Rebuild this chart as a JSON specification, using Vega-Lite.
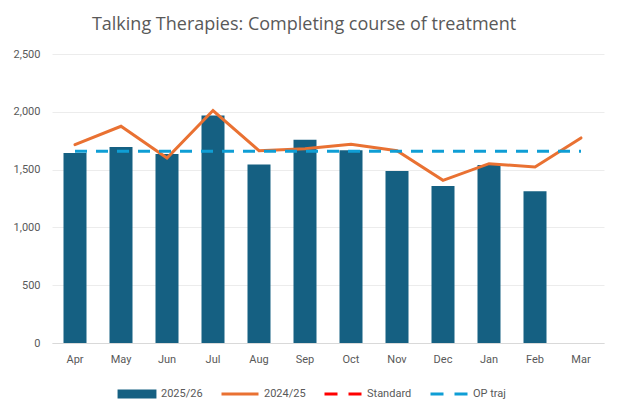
{
  "$schema": "https://vega.github.io/schema/vega-lite/v6.json",
  "width": 552,
  "height": 289,
  "autosize": {"type": "none"},
  "padding": {"left": 52, "top": 54, "right": 15, "bottom": 70},
  "background": "white",
  "title": {
    "text": "Talking Therapies: Completing course of treatment",
    "font": "Open Sans",
    "fontSize": 18,
    "fontWeight": "normal",
    "color": "#595959",
    "offset": 14,
    "dx": -24
  },
  "config": {
    "view": {"stroke": null},
    "font": "Roboto",
    "axis": {"labelFont": "Roboto", "labelColor": "#595959", "labelFontSize": 11, "ticks": false, "title": null}
  },
  "data": {
    "values": [
      {"month": "Apr", "series": "2025/26", "value": 1644},
      {"month": "May", "series": "2025/26", "value": 1696},
      {"month": "Jun", "series": "2025/26", "value": 1635},
      {"month": "Jul", "series": "2025/26", "value": 1967},
      {"month": "Aug", "series": "2025/26", "value": 1545},
      {"month": "Sep", "series": "2025/26", "value": 1759},
      {"month": "Oct", "series": "2025/26", "value": 1667},
      {"month": "Nov", "series": "2025/26", "value": 1488},
      {"month": "Dec", "series": "2025/26", "value": 1358},
      {"month": "Jan", "series": "2025/26", "value": 1540},
      {"month": "Feb", "series": "2025/26", "value": 1312},
      {"month": "Apr", "series": "2024/25", "value": 1716},
      {"month": "May", "series": "2024/25", "value": 1875},
      {"month": "Jun", "series": "2024/25", "value": 1601},
      {"month": "Jul", "series": "2024/25", "value": 2011},
      {"month": "Aug", "series": "2024/25", "value": 1664},
      {"month": "Sep", "series": "2024/25", "value": 1680},
      {"month": "Oct", "series": "2024/25", "value": 1719},
      {"month": "Nov", "series": "2024/25", "value": 1664},
      {"month": "Dec", "series": "2024/25", "value": 1407},
      {"month": "Jan", "series": "2024/25", "value": 1551},
      {"month": "Feb", "series": "2024/25", "value": 1523},
      {"month": "Mar", "series": "2024/25", "value": 1774},
      {"month": "Apr", "series": "OP traj", "value": 1658},
      {"month": "May", "series": "OP traj", "value": 1658},
      {"month": "Jun", "series": "OP traj", "value": 1658},
      {"month": "Jul", "series": "OP traj", "value": 1658},
      {"month": "Aug", "series": "OP traj", "value": 1658},
      {"month": "Sep", "series": "OP traj", "value": 1658},
      {"month": "Oct", "series": "OP traj", "value": 1658},
      {"month": "Nov", "series": "OP traj", "value": 1658},
      {"month": "Dec", "series": "OP traj", "value": 1658},
      {"month": "Jan", "series": "OP traj", "value": 1658},
      {"month": "Feb", "series": "OP traj", "value": 1658},
      {"month": "Mar", "series": "OP traj", "value": 1658}
    ]
  },
  "encoding": {
    "x": {
      "field": "month",
      "type": "ordinal",
      "sort": ["Apr", "May", "Jun", "Jul", "Aug", "Sep", "Oct", "Nov", "Dec", "Jan", "Feb", "Mar"],
      "scale": {"paddingInner": 0.5, "paddingOuter": 0.25},
      "axis": {"labelAngle": 0, "labelPadding": 10, "domain": true, "domainColor": "#d9d9d9", "grid": false}
    },
    "y": {
      "field": "value",
      "type": "quantitative",
      "scale": {"domain": [0, 2500]},
      "axis": {"values": [0, 500, 1000, 1500, 2000, 2500], "format": ",.0f", "domain": false, "grid": true, "gridColor": "#ececec", "labelPadding": 12}
    },
    "color": {
      "field": "series",
      "type": "nominal",
      "scale": {
        "domain": ["2025/26", "2024/25", "Standard", "OP traj"],
        "range": ["#156082", "#E97132", "#FF0000", "#0F9ED5"]
      },
      "legend": null
    }
  },
  "layer": [
    {
      "transform": [{"filter": "datum.series == '2025/26'"}],
      "mark": {"type": "bar"},
      "encoding": {
        "color": {
          "field": "series",
          "type": "nominal",
          "legend": {
            "orient": "none",
            "legendX": 65,
            "legendY": 320,
            "direction": "horizontal",
            "gridAlign": "none",
            "title": null,
            "labelFont": "Roboto",
            "labelFontSize": 11,
            "labelColor": "#595959",
            "labelOffset": 4,
            "columnPadding": 12,
            "symbolSize": 1369,
            "encode": {
              "symbols": {
                "update": {
                  "shape": {"signal": "datum.value == '2025/26' ? 'M-0.97,-0.16H0.97V0.16H-0.97Z' : 'stroke'"},
                  "fill": {"signal": "datum.value == '2025/26' ? '#156082' : 'transparent'"},
                  "stroke": {"signal": "datum.value == '2025/26' ? 'transparent' : datum.value == '2024/25' ? '#E97132' : datum.value == 'Standard' ? '#FF0000' : '#0F9ED5'"},
                  "strokeWidth": {"value": 3},
                  "strokeDash": {"signal": "datum.value == 'Standard' || datum.value == 'OP traj' ? [13, 11] : []"},
                  "opacity": {"value": 1}
                }
              }
            }
          }
        }
      }
    },
    {
      "transform": [{"filter": "datum.series == '2024/25'"}],
      "mark": {"type": "line", "strokeWidth": 3, "strokeCap": "round"}
    },
    {
      "transform": [{"filter": "datum.series == 'OP traj'"}],
      "mark": {"type": "line", "strokeWidth": 3, "strokeDash": [12, 9]}
    }
  ]
}
